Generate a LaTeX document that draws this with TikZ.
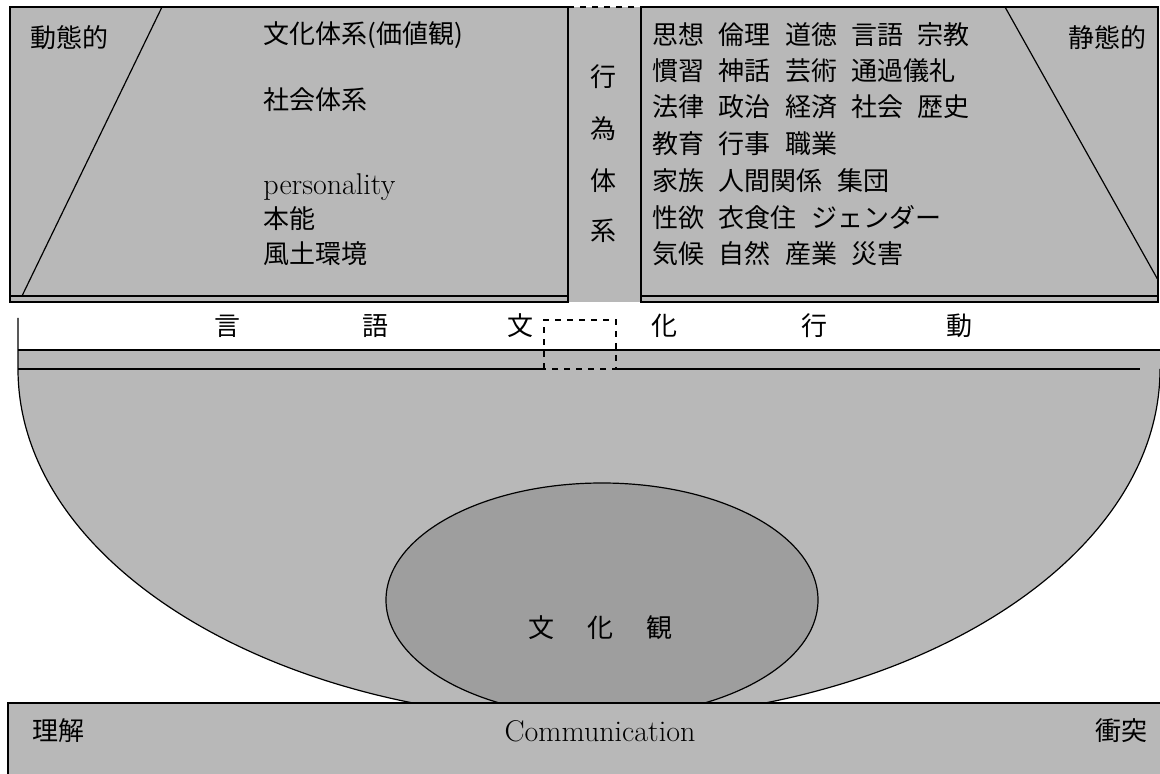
\documentclass[tikz,border=0pt]{standalone}
\usepackage{fontspec}
\newfontfamily\jpfont{Noto Sans CJK JP}
\definecolor{tone}{gray}{0.72}
\definecolor{tonedark}{gray}{0.62}
\newcommand\jgap{\hspace{0.55em}}
\begin{document}
\begin{tikzpicture}[x=0.5pt,y=-0.5pt,
  jp/.style={font=\jpfont\fontsize{13}{15}\selectfont, inner sep=0pt},
  lat/.style={font=\fontsize{15}{17}\selectfont, inner sep=0pt},
  ln/.style={line width=0.6pt},
]
\useasboundingbox (0,0) rectangle (1160,774);

% bowl
\fill[tone] (18,350) -- (18,369) arc[start angle=180,end angle=0,x radius=571,y radius=351] -- (1160,350) -- cycle;
\draw[ln] (18,318) -- (18,369) arc[start angle=180,end angle=0,x radius=571,y radius=351];

% inner ellipse
\draw[ln, fill=tonedark] (602,600) ellipse [x radius=216, y radius=117];
\node[jp] (kan1) at (541,628) {文};
\node[jp] (kan2) at (600,628) {化};
\node[jp] (kan3) at (659,628) {観};

% bottom bar
\draw[ln, fill=tone] (8,703) rectangle (1170,790);
\node[jp, anchor=west] (rikai) at (32,731) {理解};
\node[lat, anchor=base] (comm) at (600,741) {Communication};
\node[jp, anchor=east] (shoto) at (1148,731) {衝突};

% band
\draw[ln] (18,350) -- (1160,350);
\draw[ln] (18,369) -- (544,369);
\draw[ln] (616,369) -- (1140,369);
\draw[ln, dashed] (544,369) -- (544,320) -- (616,320) -- (616,369) -- cycle;
\node[jp] (b1) at (227,326) {言};
\node[jp] (b2) at (375,326) {語};
\node[jp] (b3) at (520,326) {文};
\node[jp] (b4) at (664,326) {化};
\node[jp] (b5) at (814,326) {行};
\node[jp] (b6) at (959,326) {動};

% top region
\fill[tone] (10,7) rectangle (1158,302);
\draw[ln] (10,7) rectangle (568,302);
\draw[ln] (641,7) rectangle (1158,302);
\draw[ln] (10,296) -- (568,296);
\draw[ln] (641,296) -- (1158,296);
\draw[ln, dashed] (568,7) -- (641,7);
\draw[ln] (162,7) -- (22,296);
\draw[ln] (1005,7) -- (1158,280);

% left box texts
\node[jp, anchor=west] (dotai) at (30,38) {動態的};
\node[jp, anchor=west] (l1) at (263,35) {文化体系(価値観)};
\node[jp, anchor=west] (l2) at (263,100) {社会体系};
\node[lat, anchor=base west] (l3) at (263,195) {personality};
\node[jp, anchor=west] (l4) at (263,219) {本能};
\node[jp, anchor=west] (l5) at (263,254) {風土環境};

% middle column
\node[jp] (m1) at (603,77) {行};
\node[jp] (m2) at (603,129) {為};
\node[jp] (m3) at (603,181) {体};
\node[jp] (m4) at (603,231) {系};

% right box texts
\node[jp, anchor=west] (r1) at (652,35) {思想\jgap 倫理\jgap 道徳\jgap 言語\jgap 宗教};
\node[jp, anchor=west] (r2) at (652,71) {慣習\jgap 神話\jgap 芸術\jgap 通過儀礼};
\node[jp, anchor=west] (r3) at (652,107) {法律\jgap 政治\jgap 経済\jgap 社会\jgap 歴史};
\node[jp, anchor=west] (r4) at (652,144) {教育\jgap 行事\jgap 職業};
\node[jp, anchor=west] (r5) at (652,181) {家族\jgap 人間関係\jgap 集団};
\node[jp, anchor=west] (r6) at (652,218) {性欲\jgap 衣食住\jgap ジェンダー};
\node[jp, anchor=west] (r7) at (652,254) {気候\jgap 自然\jgap 産業\jgap 災害};
\node[jp, anchor=east] (seitai) at (1147,38) {静態的};
\end{tikzpicture}
\end{document}
